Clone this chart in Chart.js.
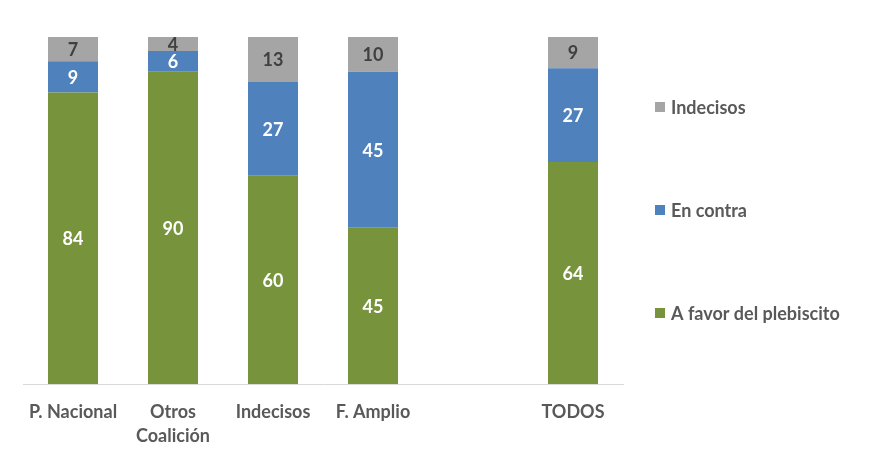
<!DOCTYPE html>
<html><head><meta charset="utf-8">
<script src="https://cdn.jsdelivr.net/npm/chart.js@4/dist/chart.umd.min.js"></script>
<style>html,body{margin:0;padding:0;background:#fff}#wrap{width:870px;height:463px;position:relative}</style>
</head><body><div id="wrap"><canvas id="c"></canvas></div>
<script>
const categories = ["P. Nacional", ["Otros", "Coalición"], "Indecisos", "F. Amplio", "", "TODOS"];
const aFavor = [84, 90, 60, 45, null, 64];
const enContra = [9, 6, 27, 45, null, 27];
const indecisos = [7, 4, 13, 10, null, 9];
const seriesNames = ["A favor del plebiscito", "En contra", "Indecisos"];
const seriesColors = ["#77933c", "#4f81bd", "#a5a5a5"];
const valueLabelColors = ["#ffffff", "#ffffff", "#404040"];

const FONT = "Lato, 'Liberation Sans', sans-serif";

const valueLabels = {
  id: 'valueLabels',
  afterDatasetsDraw(chart) {
    const ctx = chart.ctx;
    ctx.save();
    ctx.font = "bold 18px " + FONT;
    ctx.textAlign = 'center';
    ctx.textBaseline = 'middle';
    chart.data.datasets.forEach((ds, i) => {
      const meta = chart.getDatasetMeta(i);
      meta.data.forEach((bar, j) => {
        const v = ds.data[j];
        if (v == null) return;
        const p = bar.getProps(['x', 'y', 'base'], true);
        ctx.fillStyle = valueLabelColors[i];
        ctx.fillText(String(v), p.x, (p.y + p.base) / 2 + 1);
      });
    });
    ctx.restore();
  }
};

const sideLegend = {
  id: 'sideLegend',
  afterDraw(chart) {
    const ctx = chart.ctx;
    ctx.save();
    ctx.font = "bold 18px " + FONT;
    ctx.textAlign = 'left';
    ctx.textBaseline = 'middle';
    const n = chart.data.datasets.length;
    const x0 = 655, y0 = 107, step = 103, box = 10;
    for (let k = 0; k < n; k++) {
      const i = n - 1 - k;
      const ds = chart.data.datasets[i];
      const y = y0 + k * step;
      ctx.fillStyle = ds.backgroundColor;
      ctx.fillRect(x0, y - box / 2, box, box);
      ctx.fillStyle = '#595959';
      ctx.fillText(ds.label, x0 + 16, y + 1);
    }
    ctx.restore();
  }
};

new Chart(document.getElementById('c'), {
  type: 'bar',
  data: {
    labels: categories,
    datasets: [
      { label: seriesNames[0], data: aFavor, backgroundColor: seriesColors[0] },
      { label: seriesNames[1], data: enContra, backgroundColor: seriesColors[1] },
      { label: seriesNames[2], data: indecisos, backgroundColor: seriesColors[2] }
    ]
  },
  options: {
    responsive: true,
    maintainAspectRatio: false,
    animation: false,
    datasets: { bar: { categoryPercentage: 0.5, barPercentage: 1.0 } },
    layout: { padding: { left: 23, right: 247, top: 37, bottom: 0 } },
    plugins: { legend: { display: false }, tooltip: { enabled: false } },
    scales: {
      x: {
        stacked: true,
        grid: { display: false, drawTicks: false },
        border: { display: true, color: '#d9d9d9', width: 1 },
        ticks: {
          color: '#595959',
          font: { family: FONT, size: 18, weight: 'bold', lineHeight: 1.35 },
          padding: 16,
          maxRotation: 0,
          autoSkip: false
        },
        afterFit(scale) { scale.height = 79; }
      },
      y: { stacked: true, display: false, min: 0, max: 100 }
    }
  },
  plugins: [valueLabels, sideLegend]
});
</script>
</body></html>
